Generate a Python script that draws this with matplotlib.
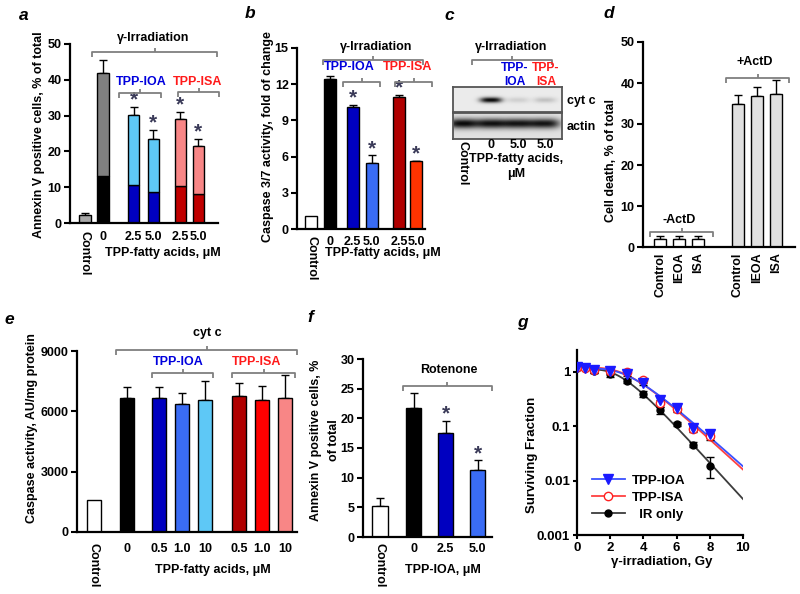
import numpy as np
import matplotlib
matplotlib.use('Agg')
import matplotlib.pyplot as plt
from matplotlib.lines import Line2D
from matplotlib.ticker import NullLocator

plt.rcParams['font.family'] = ['Liberation Sans', 'DejaVu Sans']
plt.rcParams['font.weight'] = 'bold'
plt.rcParams['font.size'] = 9

W, H = 800, 594
fig = plt.figure(figsize=(W / 100, H / 100), dpi=100)

# ---------------- data ----------------
# a: Annexin V positive cells (stacked: early part + total)
a_labels = ['Control', '0', '2.5', '5.0', '2.5', '5.0']
a_total = [2.2, 42.0, 30.3, 23.5, 29.0, 21.6]
a_total_err = [0.6, 3.5, 2.2, 2.5, 2.0, 2.0]
a_early = [0.0, 13.0, 10.7, 8.7, 10.4, 8.1]
a_star = [False, False, True, True, True, True]

# b: Caspase 3/7 activity
b_labels = ['Control', '0', '2.5', '5.0', '2.5', '5.0']
b_vals = [1.1, 12.4, 10.1, 5.5, 10.9, 5.6]
b_err = [0.0, 0.3, 0.2, 0.6, 0.2, 0.05]
b_star = [False, False, True, True, True, True]

# c: western blot band intensities
c_lanes = ['Control', '0', '5.0', '5.0']
c_cytc = [0.0, 1.0, 0.12, 0.18]
c_actin = [1.0, 0.97, 0.95, 0.95]

# d: Cell death
d_labels = ['Control', 'IEOA', 'ISA', 'Control', 'IEOA', 'ISA']
d_vals = [2.0, 2.0, 2.0, 34.8, 36.8, 37.4]
d_err = [0.6, 0.6, 0.6, 2.3, 2.3, 3.4]

# e: Caspase activity
e_labels = ['Control', '0', '0.5', '1.0', '10', '0.5', '1.0', '10']
e_vals = [1600, 6650, 6650, 6350, 6550, 6780, 6550, 6650]
e_err = [0, 550, 550, 550, 950, 650, 700, 1150]

# f: Annexin V positive cells, rotenone
f_labels = ['Control', '0', '2.5', '5.0']
f_vals = [5.2, 21.8, 17.5, 11.3]
f_err = [1.3, 2.4, 2.1, 1.6]
f_star = [False, False, True, True]

# g: clonogenic survival
g_dose = [0, 0.5, 1, 2, 3, 4, 5, 6, 7, 8]
g_ioa = [1.22, 1.18, 1.07, 1.05, 0.92, 0.64, 0.31, 0.22, 0.093, 0.072]
g_ioa_err = [0.05, 0.05, 0.12, 0.05, 0.06, 0.06, 0.04, 0.03, 0.01, 0.01]
g_isa = [1.22, 1.20, 1.10, 1.05, 1.00, 0.70, 0.27, 0.21, 0.090, 0.066]
g_isa_err = [0.05, 0.05, 0.08, 0.05, 0.06, 0.06, 0.04, 0.03, 0.01, 0.01]
g_ir = [1.20, 1.20, 1.05, 0.90, 0.68, 0.40, 0.20, 0.112, 0.046, 0.019]
g_ir_err = [0.05, 0.05, 0.10, 0.08, 0.05, 0.05, 0.03, 0.01, 0.005, 0.008]

# ---------------- styles ----------------
BLUE_T = '#0000dd'
RED_T = '#ff1a1a'
GRAY_BR = '#7f7f7f'
STAR = '#3a3a58'
FS = 9


def axes_px(x0, y0, x1, y1):
    ax = fig.add_axes([x0 / W, 1 - y1 / H, (x1 - x0) / W, (y1 - y0) / H])
    ax.patch.set_alpha(0)
    return ax


def ftext(x, y, s, **kw):
    kw.setdefault('ha', 'center')
    kw.setdefault('va', 'center')
    kw.setdefault('fontsize', FS)
    return fig.text(x / W, 1 - y / H, s, **kw)


def fline(xs, ys, color=GRAY_BR, lw=1.3):
    fig.add_artist(Line2D([x / W for x in xs], [1 - y / H for y in ys],
                          color=color, lw=lw, solid_capstyle='butt'))


def fbracket(x0, x1, y, end=5, mid=4, color=GRAY_BR, lw=1.3):
    xm = (x0 + x1) / 2
    fline([x0, x0, x1, x1], [y + end, y, y, y + end], color, lw)
    fline([xm, xm], [y, y - mid], color, lw)


def letter(x, y, s):
    ftext(x, y, s, fontsize=12.5, fontstyle='italic', fontweight='bold')


def upp(ax):
    y0, y1 = ax.get_ylim()
    return (y1 - y0) / (ax.get_position().height * H)


def style_bar_ax(ax, xlim, ylim, yticks, pos, labels, rot=270, pad=5.5):
    ax.set_xlim(*xlim)
    ax.set_ylim(*ylim)
    ax.set_yticks(yticks)
    ax.set_xticks(pos)
    ax.set_xticklabels(labels)
    for s in ('top', 'right'):
        ax.spines[s].set_visible(False)
    for s in ('left', 'bottom'):
        ax.spines[s].set_linewidth(1.6)
    ax.tick_params(axis='y', direction='out', length=4, width=1.5, pad=2, labelsize=FS)
    ax.tick_params(axis='x', length=0, pad=pad, labelsize=FS)
    for lab in ax.get_xticklabels():
        if rot == 90 or lab.get_text() == 'Control':
            lab.set_rotation(rot)
            lab.set_va('top')


def draw_bars(ax, pos, vals, colors, width, bottom=None):
    ax.bar(pos, vals, width, bottom=bottom, color=colors, edgecolor='black',
           linewidth=1, zorder=2)


def draw_err(ax, pos, tops, err):
    p = [x for x, e in zip(pos, err) if e > 0]
    t = [v for v, e in zip(tops, err) if e > 0]
    e = [v for v in err if v > 0]
    ax.errorbar(p, t, yerr=[np.zeros(len(e)), e], fmt='none', ecolor='black',
                elinewidth=1, capsize=3, capthick=1, zorder=1)


def draw_stars(ax, pos, tops, err, mask, off_px=1.5):
    k = upp(ax)
    for x, t, e, m in zip(pos, tops, err, mask):
        if m:
            ax.text(x, t + e + off_px * k, '*', ha='center', va='baseline',
                    fontsize=15, color=STAR, clip_on=False)


# ================= panel a =================
ax = axes_px(70, 44, 218, 223)
a_pos = np.array([0, 1, 2.7, 3.8, 5.3, 6.3])
a_top_col = ['#a8a8a8', '#808080', '#5ec8f6', '#5ec8f6', '#f88686', '#f88686']
a_bot_col = ['#a8a8a8', '#000000', '#0000c0', '#0000c0', '#c00000', '#c00000']
style_bar_ax(ax, (-0.833, 7.39), (0, 50), [0, 10, 20, 30, 40, 50], a_pos, a_labels)
draw_bars(ax, a_pos, a_early, a_bot_col, 0.65)
draw_bars(ax, a_pos, np.array(a_total) - np.array(a_early), a_top_col, 0.65, bottom=a_early)
draw_err(ax, a_pos, a_total, a_total_err)
draw_stars(ax, a_pos, a_total, a_total_err, a_star)
letter(24, 15, 'a')
ftext(39, 135, 'Annexin V positive cells, % of total', rotation=90)
ftext(163, 253, 'TPP-fatty acids, μM')
ftext(153, 38, 'γ-Irradiation')
fbracket(92, 217, 52)
ftext(141, 82, 'TPP-IOA', color=BLUE_T)
fbracket(119, 161, 93)
ftext(198, 82, 'TPP-ISA', color=RED_T)
fbracket(178, 219, 92)

# ================= panel b =================
ax = axes_px(297, 48, 425, 229)
b_pos = np.array([0, 1, 2.2, 3.2, 4.65, 5.55])
b_col = ['#ffffff', '#000000', '#0000c0', '#3a6cf5', '#b00000', '#ff3300']
style_bar_ax(ax, (-0.737, 6.0), (0, 15), [0, 3, 6, 9, 12, 15], b_pos, b_labels, pad=5)
draw_bars(ax, b_pos, b_vals, b_col, 0.63)
draw_err(ax, b_pos, b_vals, b_err)
draw_stars(ax, b_pos, b_vals, b_err, b_star)
letter(250, 14, 'b')
ftext(268, 137, 'Caspase 3/7 activity, fold of change', rotation=90)
ftext(383, 253, 'TPP-fatty acids, μM')
ftext(376, 47, 'γ-Irradiation')
fbracket(323, 423, 60)
ftext(349, 67, 'TPP-IOA', color=BLUE_T)
fbracket(343, 380, 82)
ftext(408, 67, 'TPP-ISA', color=RED_T)
fbracket(395, 432, 82)

# ================= panel c (blot) =================
lane_px = [10, 38, 65, 92]


def blot(ax, intens, wpx, hpx, bw, bh, cy, base):
    xs = np.arange(wpx)[None, :] + 0.5
    ys = np.arange(hpx)[:, None] + 0.5
    dark = np.zeros((hpx, wpx))
    for cx, it in zip(lane_px, intens):
        dark += it * np.exp(-np.abs((xs - cx) / bw) ** 3) * np.exp(-((ys - cy) / bh) ** 2)
    img = base - (base - 0.04) * np.clip(dark, 0, 1)
    ax.imshow(img, cmap='gray', vmin=0, vmax=1, aspect='auto',
              interpolation='bilinear', extent=(0, wpx, hpx, 0))
    ax.set_xticks([])
    ax.set_yticks([])
    for s in ax.spines.values():
        s.set_color('#555555')
        s.set_linewidth(1.3)


axc1 = axes_px(453, 87, 562, 112)
blot(axc1, c_cytc, 109, 25, 11, 2.8, 13, 0.92)
axc2 = axes_px(453, 113, 562, 139)
blot(axc2, c_actin, 109, 26, 15, 5.0, 10.5, 0.88)
letter(449, 15, 'c')
ftext(511, 47, 'γ-Irradiation')
fbracket(472, 552, 60)
ftext(515, 68, 'TPP-', color=BLUE_T, fontsize=8.7)
ftext(515, 82, 'IOA', color=BLUE_T, fontsize=8.7)
ftext(546, 68, 'TPP-', color=RED_T, fontsize=8.7)
ftext(546, 82, 'ISA', color=RED_T, fontsize=8.7)
ftext(567, 101, 'cyt c', ha='left')
ftext(567, 127, 'actin', ha='left')
for lx, lab in zip(lane_px, c_lanes):
    if lab == 'Control':
        ftext(453 + lx, 141, lab, rotation=270, va='top')
    else:
        ftext(453 + lx, 145, lab)
ftext(516, 159, 'TPP-fatty acids,')
ftext(516, 174, 'μM')

# ================= panel d =================
ax = axes_px(643, 42, 795, 247)
d_pos = np.array([0, 1, 2, 4.1, 5.1, 6.1])
d_col = ['#ffffff'] * 3 + ['#e0e0e0'] * 3
style_bar_ax(ax, (-0.895, 7.105), (0, 50), [0, 10, 20, 30, 40, 50], d_pos, d_labels,
             rot=90, pad=4)
draw_bars(ax, d_pos, d_vals, d_col, 0.62)
draw_err(ax, d_pos, d_vals, d_err)
letter(609, 14, 'd')
ftext(611, 160, 'Cell death, % of total', rotation=90)
ftext(679, 220, '-ActD')
fbracket(650, 713, 232)
ftext(755, 62, '+ActD')
fbracket(726, 789, 78)

# ================= panel e =================
ax = axes_px(77, 351, 297, 532)
e_pos = np.array([0, 1.43, 2.83, 3.83, 4.83, 6.3, 7.3, 8.3])
e_col = ['#ffffff', '#000000', '#0000c0', '#3a6cf5', '#5ec8f6', '#b00000', '#ff0000', '#f88686']
style_bar_ax(ax, (-0.739, 8.826), (0, 9000), [0, 3000, 6000, 9000], e_pos, e_labels, pad=8)
draw_bars(ax, e_pos, e_vals, e_col, 0.6)
draw_err(ax, e_pos, e_vals, e_err)
letter(9, 320, 'e')
ftext(32, 428, 'Caspase activity, AU/mg protein', rotation=90)
ftext(213, 570, 'TPP-fatty acids, μM')
ftext(207, 333, 'cyt c')
fbracket(116, 297, 350)
ftext(178, 362, 'TPP-IOA', color=BLUE_T)
fbracket(152, 213, 373)
ftext(257, 362, 'TPP-ISA', color=RED_T)
fbracket(232, 295, 373)

# ================= panel f =================
ax = axes_px(363, 359, 492, 537)
f_pos = np.array([0, 1.05, 2.05, 3.05])
f_col = ['#ffffff', '#000000', '#0000c0', '#3a6cf5']
style_bar_ax(ax, (-0.531, 3.5), (0, 30), [0, 5, 10, 15, 20, 25, 30], f_pos, f_labels, pad=4.5)
draw_bars(ax, f_pos, f_vals, f_col, 0.47)
draw_err(ax, f_pos, f_vals, f_err)
draw_stars(ax, f_pos, f_vals, f_err, f_star)
letter(310, 318, 'f')
ftext(316, 440, 'Annexin V positive cells, %', rotation=90)
ftext(334, 440, 'of total', rotation=90)
ftext(443, 570, 'TPP-IOA, μM')
ftext(449, 370, 'Rotenone')
fbracket(403, 492, 386)

# ================= panel g =================
ax = axes_px(577, 350, 743, 535)
ax.set_yscale('log')
ax.set_ylim(0.001, 2.54)
ax.set_xlim(0, 10)
ax.set_yticks([0.001, 0.01, 0.1, 1])
ax.set_yticklabels(['0.001', '0.01', '0.1', '1'])
ax.yaxis.set_minor_locator(NullLocator())
ax.set_xticks([0, 2, 4, 6, 8, 10])
for s in ('top', 'right'):
    ax.spines[s].set_visible(False)
for s in ('left', 'bottom'):
    ax.spines[s].set_linewidth(1.6)
ax.tick_params(direction='out', length=3, width=1.5, pad=2, labelsize=FS + 0.5)


def fit_multitarget(d, s):
    d = np.asarray(d, float)
    ls = np.log10(np.asarray(s, float))
    n = np.linspace(1, 30, 117)[:, None]
    best = None
    for A in np.linspace(0.9, 1.4, 26):
        for D0 in np.linspace(0.8, 3.0, 45):
            pred = A * (1 - (1 - np.exp(-d[None, :] / D0)) ** n)
            err = ((np.log10(pred) - ls[None, :]) ** 2).sum(1)
            i = err.argmin()
            if best is None or err[i] < best[0]:
                best = (err[i], A, D0, n[i, 0])
    return best[1:]


dd = np.linspace(0, 10, 300)
series = [
    (g_ir, g_ir_err, '#3c3c3c', 'o', 'black', 'black', 5, '  IR only'),
    (g_isa, g_isa_err, '#ff4040', 'o', 'white', '#ff2020', 6, 'TPP-ISA'),
    (g_ioa, g_ioa_err, '#3a50ff', 'v', '#1a1aff', '#1a1aff', 6.5, 'TPP-IOA'),
]
handles = {}
for ys, es, lc, mk, mfc, mec, ms, lab in series:
    A, D0, n = fit_multitarget(g_dose, ys)
    curve = A * (1 - (1 - np.exp(-dd / D0)) ** n)
    ax.plot(dd, curve, color=lc, lw=1.3, zorder=2)
    ax.errorbar(g_dose, ys, yerr=es, fmt='none', ecolor='black', elinewidth=1,
                capsize=3, capthick=1, zorder=3)
    ax.plot(g_dose, ys, linestyle='none', marker=mk, mfc=mfc, mec=mec, ms=ms, zorder=4)
    handles[lab] = Line2D([], [], color=lc, lw=1.3, marker=mk, mfc=mfc, mec=mec, ms=ms)
order = ['TPP-IOA', 'TPP-ISA', '  IR only']
ax.legend([handles[k] for k in order], order, loc='upper left',
          bbox_to_anchor=(0.09, 0.325), frameon=False, handlelength=2.5,
          handletextpad=0.5, labelspacing=0.35, borderpad=0, borderaxespad=0,
          prop={'weight': 'bold', 'size': FS + 0.5})
letter(522, 322, 'g')
ftext(532, 455, 'Surviving Fraction', rotation=90, fontsize=FS + 0.5)
ftext(662, 562, 'γ-irradiation, Gy', fontsize=FS + 0.5)

fig.savefig('out.png', dpi=100)
